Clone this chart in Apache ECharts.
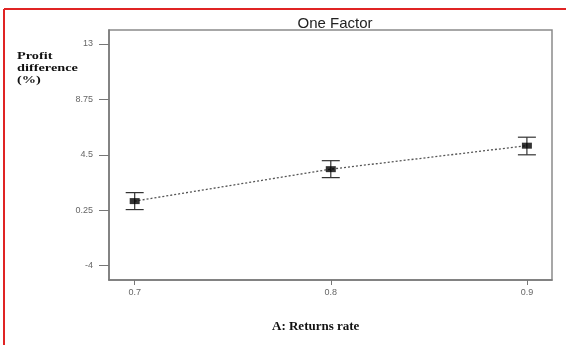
<!DOCTYPE html>
<html>
<head>
<meta charset="utf-8">
<title>One Factor</title>
<script src="https://cdn.jsdelivr.net/npm/echarts@6/dist/echarts.min.js"></script>
<style>
  html, body { margin: 0; padding: 0; background: #fff; }
  #main { width: 566px; height: 345px; }
</style>
</head>
<body>
<div id="main"></div>
<script type="text/javascript">
// returns rate levels and the predicted profit difference (%)
var returnsRate = [0.7, 0.8, 0.9];
var profitMean = [0.95, 3.4, 5.2];
var profitLow = [0.3, 2.75, 4.5];
var profitHigh = [1.6, 4.05, 5.85];
var yTicks = [-4, 0.25, 4.5, 8.75, 13];
var xTicks = [0.7, 0.8, 0.9];

var myChart = echarts.init(document.getElementById('main'));

var meanPts = returnsRate.map(function (x, i) { return [x, profitMean[i]]; });
var barPts = returnsRate.map(function (x, i) { return [x, profitLow[i], profitHigh[i]]; });

var option = {
    backgroundColor: '#fff',
    animation: false,
    title: {
        text: 'One Factor',
        left: 330, top: 11, textAlign: 'center',
        textStyle: { fontFamily: 'Arial', fontSize: 15, fontWeight: 'normal', color: '#222', lineHeight: 15 }
    },
    grid: {
        left: 109, right: 14, top: 30, bottom: 65,
        show: true, borderColor: '#8a8a8a', borderWidth: 1.5
    },
    xAxis: {
        type: 'value', min: 0.6869, max: 0.9128,
        axisLine: { onZero: false, lineStyle: { color: '#777', width: 1.5 } },
        axisTick: { customValues: xTicks, length: 5, lineStyle: { color: '#777' } },
        axisLabel: { customValues: xTicks, fontSize: 9, color: '#666', margin: 8, fontFamily: 'Arial' },
        splitLine: { show: false }
    },
    yAxis: {
        type: 'value', min: -5.1, max: 14.07,
        axisLine: { show: true, onZero: false, lineStyle: { color: '#777', width: 1.5 } },
        axisTick: { show: true, customValues: yTicks, length: 10, lineStyle: { color: '#777' } },
        axisLabel: { customValues: yTicks, fontSize: 9, color: '#666', margin: 16, fontFamily: 'Arial' },
        splitLine: { show: false }
    },
    graphic: [
        { type: 'line', shape: { x1: 4, y1: 9, x2: 566, y2: 9 }, style: { stroke: '#e02424', lineWidth: 2 } },
        { type: 'line', shape: { x1: 4, y1: 9, x2: 4, y2: 345 }, style: { stroke: '#e02424', lineWidth: 2 } },
        {
            type: 'text', x: 17, y: 50, scaleX: 1.3,
            style: { text: 'Profit\ndifference\n(%)', font: 'bold 11px "Liberation Serif"', lineHeight: 12, fill: '#111' }
        },
        {
            type: 'text', left: 272, top: 320,
            style: { text: 'A: Returns rate', font: 'bold 13px "Liberation Serif"', fill: '#111' }
        }
    ],
    series: [
        {
            type: 'line', data: meanPts, symbol: 'none',
            lineStyle: { color: '#555', width: 1.3, type: [2, 2] }, z: 2
        },
        {
            type: 'custom', data: barPts, z: 3,
            renderItem: function (params, api) {
                var x = api.value(0);
                var lo = api.coord([x, api.value(1)]);
                var hi = api.coord([x, api.value(2)]);
                var w = 9;
                var st = { stroke: '#333', lineWidth: 1.2 };
                return {
                    type: 'group',
                    children: [
                        { type: 'line', shape: { x1: lo[0], y1: lo[1], x2: hi[0], y2: hi[1] }, style: st },
                        { type: 'line', shape: { x1: lo[0] - w, y1: lo[1], x2: lo[0] + w, y2: lo[1] }, style: st },
                        { type: 'line', shape: { x1: hi[0] - w, y1: hi[1], x2: hi[0] + w, y2: hi[1] }, style: st }
                    ]
                };
            }
        },
        {
            type: 'scatter', data: meanPts, symbol: 'rect', symbolSize: [10, 6],
            itemStyle: { color: '#000' }, z: 4
        }
    ]
};
myChart.setOption(option);
</script>
</body>
</html>
